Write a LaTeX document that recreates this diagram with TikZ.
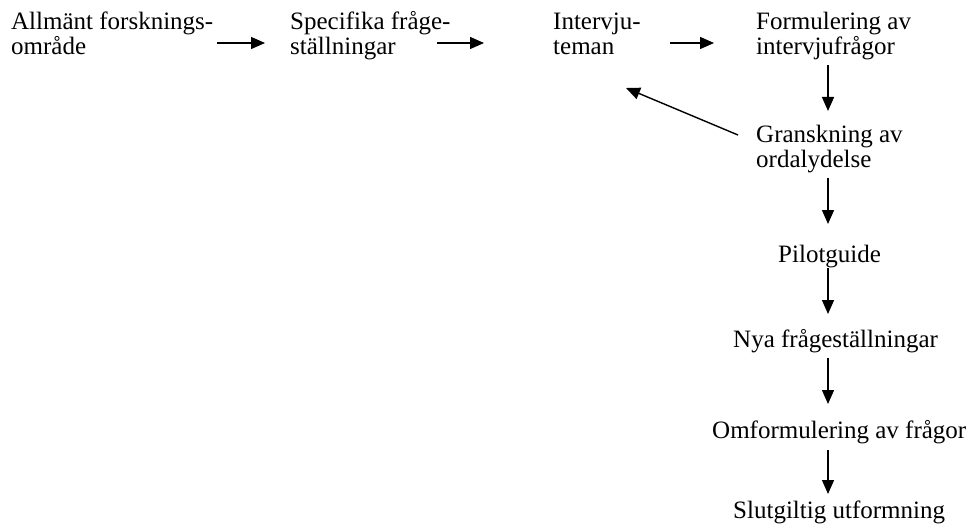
\documentclass[tikz,border=0pt]{standalone}
\usepackage{fontspec}
\setmainfont{Liberation Serif}
\usetikzlibrary{arrows.meta}
\newcommand{\twolines}[2]{\vtop{\baselineskip=24.5pt\lineskiplimit=-100pt\hbox{#1}\hbox{#2}}}
\begin{document}
\begin{tikzpicture}[x=1pt,y=-1pt,
  lbl/.style={anchor=base west,inner sep=0pt,font=\fontsize{25}{24.5}\selectfont},
  arr/.style={line width=1.4pt,-{Triangle[length=14pt,width=12pt]}}]
\useasboundingbox (0,0) rectangle (967,532);
% nodes
\node[lbl] (allm) at (11,30) {\twolines{Allmänt forsknings-}{område}};
\node[lbl] (spec) at (290,30) {\twolines{Specifika fråge-}{ställningar}};
\node[lbl] (intv) at (553,30) {\twolines{Intervju-}{teman}};
\node[lbl] (form) at (756,30) {\twolines{Formulering av}{intervjufrågor}};
\node[lbl] (gran) at (756,143) {\twolines{Granskning av}{ordalydelse}};
\node[lbl] (pilo) at (778,262) {Pilotguide};
\node[lbl] (nya)  at (733,347) {Nya frågeställningar};
\node[lbl] (omfo) at (712,438) {Omformulering av frågor};
\node[lbl] (slut) at (733,518) {Slutgiltig utformning};
% connector end points
\coordinate (a1s) at (217,43);  \coordinate (a1e) at (265,43);
\coordinate (a2s) at (437,43);  \coordinate (a2e) at (484,43);
\coordinate (a3s) at (670,43);  \coordinate (a3e) at (714,43);
\coordinate (a4s) at (828,65);  \coordinate (a4e) at (828,111);
\coordinate (a5s) at (738,135); \coordinate (a5e) at (626,88);
\coordinate (a6s) at (828,178); \coordinate (a6e) at (828,224);
\coordinate (a7s) at (828,268); \coordinate (a7e) at (828,314);
\coordinate (a8s) at (828,358); \coordinate (a8e) at (828,404);
\coordinate (a9s) at (828,450); \coordinate (a9e) at (828,494);
\draw[arr] (a1s) -- (a1e);
\draw[arr] (a2s) -- (a2e);
\draw[arr] (a3s) -- (a3e);
\draw[arr] (a4s) -- (a4e);
\draw[arr] (a5s) -- (a5e);
\draw[arr] (a6s) -- (a6e);
\draw[arr] (a7s) -- (a7e);
\draw[arr] (a8s) -- (a8e);
\draw[arr] (a9s) -- (a9e);
\end{tikzpicture}
\end{document}
